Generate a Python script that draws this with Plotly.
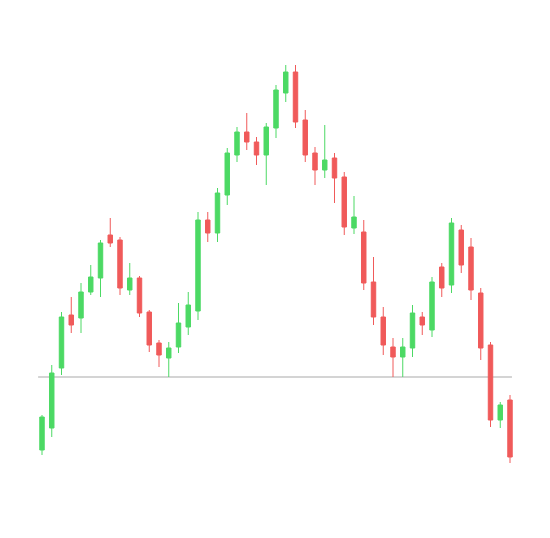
import plotly.graph_objects as go

# Session index (one candle per session)
sessions = list(range(49))

opens = [50, 72, 132, 185, 182, 208, 222, 265, 260, 210,
         222, 188, 157, 142, 153, 173, 189, 280, 267, 305,
         345, 368, 358, 345, 372, 407, 428, 380, 347, 330,
         342, 323, 272, 268, 218, 183, 153, 143, 152, 183,
         170, 233, 215, 270, 253, 207, 155, 80, 100]
highs = [85, 135, 188, 203, 217, 235, 260, 282, 263, 237,
         224, 190, 160, 158, 197, 208, 288, 288, 312, 352,
         373, 387, 363, 377, 415, 435, 435, 390, 353, 375,
         347, 328, 304, 280, 243, 193, 162, 162, 195, 188,
         223, 237, 282, 275, 262, 212, 158, 98, 105]
lows = [45, 63, 125, 167, 167, 205, 203, 253, 205, 205,
        183, 148, 133, 123, 147, 165, 180, 258, 258, 295,
        338, 350, 335, 315, 362, 398, 372, 338, 315, 322,
        297, 265, 266, 210, 175, 145, 123, 123, 143, 165,
        163, 203, 207, 227, 200, 140, 73, 72, 37]
closes = [83, 127, 183, 175, 208, 223, 257, 257, 212, 222,
          187, 155, 145, 152, 177, 195, 280, 267, 307, 347,
          368, 358, 345, 373, 410, 428, 378, 345, 330, 340,
          322, 273, 283, 217, 183, 155, 143, 153, 187, 175,
          218, 212, 277, 235, 210, 152, 80, 95, 43]

reference_level = 123

GREEN = "#4cd964"
RED = "#f05a5a"

fig = go.Figure()
fig.add_trace(go.Candlestick(
    x=sessions, open=opens, high=highs, low=lows, close=closes,
    increasing=dict(line=dict(color=GREEN, width=1), fillcolor=GREEN),
    decreasing=dict(line=dict(color=RED, width=1), fillcolor=RED),
    whiskerwidth=0,
    hoverinfo="skip",
))

fig.add_shape(type="line", xref="x", yref="y",
              x0=-0.4, x1=48.2, y0=reference_level, y1=reference_level,
              line=dict(color="#d4d4d4", width=2), layer="below")

fig.update_layout(
    width=542, height=530,
    margin=dict(l=0, r=0, t=0, b=0),
    paper_bgcolor="white", plot_bgcolor="white",
    showlegend=False,
    boxgap=0.35,
    xaxis=dict(range=[-34 / 9.75, 508 / 9.75], visible=False,
               rangeslider=dict(visible=False), fixedrange=True),
    yaxis=dict(range=[-38, 492], visible=False, fixedrange=True),
)

fig.write_html("out.html")
